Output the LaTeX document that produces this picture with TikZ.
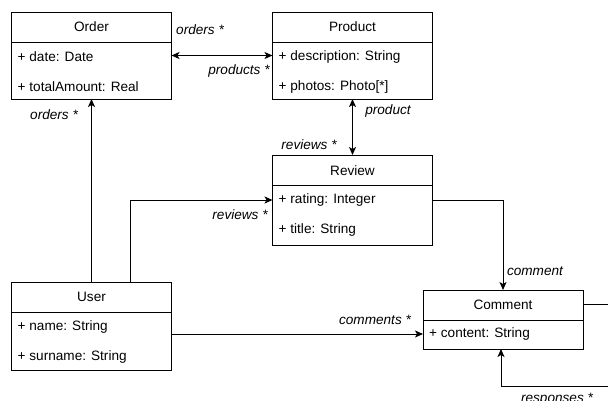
\documentclass[tikz,border=0pt]{standalone}
\usepackage{fontspec}
\setmainfont{Liberation Sans}
\usetikzlibrary{arrows.meta}
\begin{document}
\begin{tikzpicture}[x=1pt,y=-1pt,
  cls/.style={draw, line width=1pt, anchor=north west, minimum width=160pt, inner sep=0pt, outer sep=0pt},
  ttl/.style={font=\fontsize{13.6}{16}\selectfont, anchor=center, inner sep=0pt},
  attr/.style={font=\fontsize{13.6}{16}\selectfont, anchor=west, inner sep=0pt},
  lbl/.style={font=\fontsize{13.6}{16}\selectfont\itshape, inner sep=0pt},
  tip/.tip={Stealth[length=8pt,width=7pt,inset=2pt]},
  conn/.style={line width=1pt, -tip},
  both/.style={line width=1pt, tip-tip}
]
\useasboundingbox (0,0) rectangle (608,400);
\clip (0,0) rectangle (608,400);

% classes
\node[cls, minimum height=87pt] (Order) at (11.5,12) {};
\node[cls, minimum height=87pt] (Product) at (272.5,12) {};
\node[cls, minimum height=90pt] (Review) at (272.5,155) {};
\node[cls, minimum height=88pt] (User) at (11.5,282) {};
\node[cls, minimum height=59pt] (Comment) at (423,290) {};

\foreach \c in {Order,Product,Review,User,Comment}{
  \draw[line width=1pt] ([yshift=-30pt]\c.north west) -- ([yshift=-30pt]\c.north east);
}

\node[ttl] (OrderT) at ([yshift=-15pt]Order.north) {Order};
\node[attr] (OrderA1) at ([xshift=6pt,yshift=-44.5pt]Order.north west) {+ date: Date};
\node[attr] (OrderA2) at ([xshift=6pt,yshift=-74.5pt]Order.north west) {+ totalAmount: Real};

\node[ttl] (ProductT) at ([yshift=-15pt]Product.north) {Product};
\node[attr] (ProductA1) at ([xshift=6pt,yshift=-44.5pt]Product.north west) {+ description: String};
\node[attr] (ProductA2) at ([xshift=6pt,yshift=-74.5pt]Product.north west) {+ photos: Photo[*]};

\node[ttl] (ReviewT) at ([yshift=-16pt]Review.north) {Review};
\node[attr] (ReviewA1) at ([xshift=6pt,yshift=-45pt]Review.north west) {+ rating: Integer};
\node[attr] (ReviewA2) at ([xshift=6pt,yshift=-75pt]Review.north west) {+ title: String};

\node[ttl] (UserT) at ([yshift=-15pt]User.north) {User};
\node[attr] (UserA1) at ([xshift=6pt,yshift=-45pt]User.north west) {+ name: String};
\node[attr] (UserA2) at ([xshift=6pt,yshift=-75pt]User.north west) {+ surname: String};

\node[ttl] (CommentT) at ([yshift=-15pt]Comment.north) {Comment};
\node[attr] (CommentA1) at ([xshift=6pt,yshift=-44pt]Comment.north west) {+ content: String};

% connector helper points
\coordinate (cin) at ([yshift=-14.5pt]Comment.west);
\coordinate (cout) at ([yshift=-14.5pt]Comment.north east);
\coordinate (loopR) at (625,386);

% connectors
\draw[both] (Order.east) -- (Product.west);
\draw[both] (Product.south) -- (Review.north);
\draw[conn] (User.north) -- (Order.south);
\draw[conn] ([xshift=39pt]User.north) |- (Review.west);
\draw[conn] (User.east |- cin) -- (cin);
\draw[conn] (Review.east) -| (Comment.north);
\draw[conn] (cout) -| (loopR) -| ([xshift=-2pt]Comment.south);

% labels
\node[lbl] (l1) at (200,30) {orders *};
\node[lbl] (l2) at (239,71) {products *};
\node[lbl] (l3) at (388,111) {product};
\node[lbl] (l4) at (309,145) {reviews *};
\node[lbl] (l5) at (54,115) {orders *};
\node[lbl] (l6) at (240,215) {reviews *};
\node[lbl] (l7) at (375,320) {comments *};
\node[lbl] (l8) at (535,271) {comment};
\node[lbl] (l9) at (557,399) {responses *};
\end{tikzpicture}
\end{document}
